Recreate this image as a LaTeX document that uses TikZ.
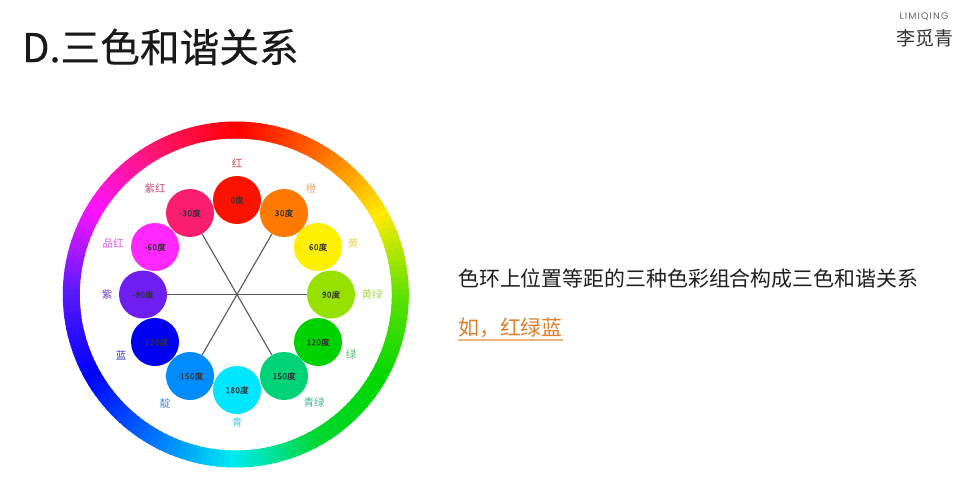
\documentclass[tikz,border=0pt]{standalone}
\usepackage{fontspec}
\usetikzlibrary{calc}
\setmainfont{Noto Sans CJK SC}
\newfontfamily\medfont[FakeBold=0.25,LetterSpace=4]{Noto Sans CJK SC}
\newfontfamily\titlefont[FakeBold=0.25]{Noto Sans CJK SC}
\newfontfamily\logofont[LetterSpace=12]{Poppins}
\definecolor{s0}{RGB}{255,0,0}
\definecolor{s1}{RGB}{255,110,0}
\definecolor{s2}{RGB}{255,235,0}
\definecolor{s3}{RGB}{90,225,0}
\definecolor{s4}{RGB}{0,215,0}
\definecolor{s5}{RGB}{0,215,50}
\definecolor{s6}{RGB}{0,235,240}
\definecolor{s7}{RGB}{0,110,255}
\definecolor{s8}{RGB}{0,0,255}
\definecolor{s9}{RGB}{90,25,255}
\definecolor{s10}{RGB}{255,20,255}
\definecolor{s11}{RGB}{255,20,110}
\definecolor{s12}{RGB}{255,0,0}
\tikzset{
  huedisc/.style={circle,minimum size=48pt,inner sep=0pt,font=\medfont\fontsize{8.3}{10}\selectfont,text=black!80},
  huename/.style={inner sep=0pt,font=\fontsize{10.5}{12}\selectfont},
  spoke/.style={draw=black!65,line width=1.1pt},
}
\begin{document}
\begin{tikzpicture}[x=1pt,y=1pt]
\useasboundingbox[fill=white] (0,0) rectangle (960,-497);
\coordinate (hub) at (235.8,-294.5);
% colour ring
\foreach \seg [evaluate=\seg as \nxt using int(\seg+1)] in {0,...,11}{
  \foreach \st in {0,2,...,28}{
    \pgfmathsetmacro{\mixp}{100*\st/30}
    \pgfmathsetmacro{\ang}{90-\seg*30-\st}
    \pgfmathsetmacro{\angb}{\ang-2.6}
    \colorlet{ringcol}{s\nxt!\mixp!s\seg}
    \draw[ringcol,line width=17pt] ($(hub)+(\ang:164.5)$) arc[start angle=\ang,end angle=\angb,radius=164.5];
  }
}
% discs
\node[huedisc,fill={rgb,255:red,250;green,20;blue,0}] (d0) at (237,-200) {0度};
\node[huedisc,fill={rgb,255:red,255;green,120;blue,0}] (d30) at (284,-213) {30度};
\node[huedisc,fill={rgb,255:red,255;green,240;blue,0}] (d60) at (318,-247) {60度};
\node[huedisc,fill={rgb,255:red,150;green,225;blue,0}] (d90) at (331,-294.5) {90度};
\node[huedisc,fill={rgb,255:red,0;green,210;blue,0}] (d120) at (318,-342) {120度};
\node[huedisc,fill={rgb,255:red,0;green,210;blue,120}] (d150) at (284,-376) {150度};
\node[huedisc,fill={rgb,255:red,0;green,230;blue,255}] (d180) at (237,-390) {180度};
\node[huedisc,fill={rgb,255:red,0;green,140;blue,250}] (dm150) at (190,-376) {-150度};
\node[huedisc,fill={rgb,255:red,0;green,0;blue,240}] (dm120) at (155,-342) {-120度};
\node[huedisc,fill={rgb,255:red,110;green,30;blue,240}] (dm90) at (143,-294.5) {-90度};
\node[huedisc,fill={rgb,255:red,255;green,40;blue,255}] (dm60) at (155,-247) {-60度};
\node[huedisc,fill={rgb,255:red,250;green,30;blue,110}] (dm30) at (190,-213) {-30度};
\draw[spoke] (dm30) -- (d150);
\draw[spoke] (d30) -- (dm150);
\draw[spoke] (dm90) -- (d90);
% names
\node[huename,text={rgb,255:red,215;green,70;blue,70}] (n0) at (237,-163) {红};
\node[huename,text={rgb,255:red,240;green,170;blue,110}] (n30) at (311,-189) {橙};
\node[huename,text={rgb,255:red,240;green,215;blue,90}] (n60) at (353,-244) {黄};
\node[huename,text={rgb,255:red,175;green,215;blue,90}] (n90) at (372,-295) {黄绿};
\node[huename,text={rgb,255:red,90;green,190;blue,110}] (n120) at (351,-355) {绿};
\node[huename,text={rgb,255:red,70;green,180;blue,140}] (n150) at (314,-403) {青绿};
\node[huename,text={rgb,255:red,80;green,200;blue,225}] (n180) at (237,-423) {青};
\node[huename,text={rgb,255:red,70;green,140;blue,215}] (nm150) at (165,-403) {靛};
\node[huename,text={rgb,255:red,60;green,60;blue,190}] (nm120) at (121,-355) {蓝};
\node[huename,text={rgb,255:red,110;green,60;blue,200}] (nm90) at (107,-295) {紫};
\node[huename,text={rgb,255:red,220;green,90;blue,220}] (nm60) at (113,-244) {品红};
\node[huename,text={rgb,255:red,210;green,70;blue,120}] (nm30) at (155,-189) {紫红};
% texts
\node[anchor=west,inner sep=0pt,font=\titlefont\fontsize{39.7}{44}\selectfont,text=black!90] (title) at (22,-47) {D.三色和谐关系};
\node[anchor=west,inner sep=0pt,font=\fontsize{20.9}{24}\selectfont,text=black!88] (desc) at (458,-279) {色环上位置等距的三种色彩组合构成三色和谐关系};
\node[anchor=west,inner sep=0pt,font=\fontsize{20.9}{24}\selectfont,text={rgb,255:red,225;green,125;blue,45}] (eg) at (458,-328) {如，红绿蓝};
\draw[draw={rgb,255:red,238;green,180;blue,130},line width=1.4pt] (eg.west |- 0,-340) -- (eg.east |- 0,-340);
\node[inner sep=0pt,font=\logofont\fontsize{9.5}{11}\selectfont,text=black!60] (brand) at (924,-17) {LIMIQING};
\node[inner sep=0pt,font=\fontsize{19}{22}\selectfont,text=black!80] (brandcn) at (924.5,-38) {李觅青};
\end{tikzpicture}
\end{document}
